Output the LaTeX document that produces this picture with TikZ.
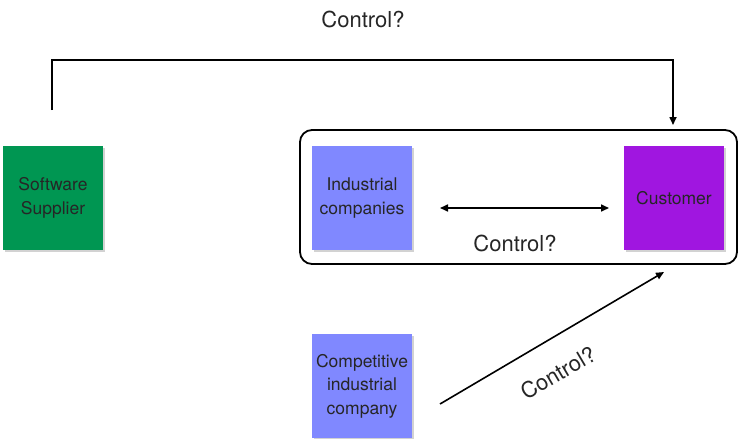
\documentclass[tikz,border=0pt]{standalone}
\usepackage{fontspec}
\setmainfont{TeX Gyre Heros}
\usetikzlibrary{arrows.meta,shadows}
\definecolor{supgreen}{RGB}{0,150,82}
\definecolor{indblue}{RGB}{128,136,255}
\definecolor{custpurple}{RGB}{160,22,224}
\tikzset{
  actor/.style={minimum width=100pt,minimum height=104pt,inner sep=0pt,align=center,
     font=\fontsize{17.5}{23.5}\selectfont,text=black!85,
     drop shadow={shadow xshift=1.5pt,shadow yshift=-1.5pt,fill=black!35,opacity=0.5}},
  conn/.style={line width=1.6pt,-{Triangle[length=8pt,width=7pt]}},
  lbl/.style={font=\fontsize{22}{26}\selectfont,text=black!85,inner sep=0pt}
}
\begin{document}
\begin{tikzpicture}[x=1pt,y=-1pt]
\useasboundingbox (0,0) rectangle (739,439);
\node[draw,line width=1.8pt,rounded corners=12pt,minimum width=437pt,minimum height=134pt] (group) at (518.5,197) {};
\node[actor,fill=supgreen] (sup) at (53,198) {Software\\Supplier};
\node[actor,fill=indblue] (ind) at (362,198) {Industrial\\companies};
\node[actor,fill=custpurple] (cust) at (674,198) {Customer};
\node[actor,fill=indblue] (comp) at (362,386) {Competitive\\industrial\\company};
\coordinate (topstart) at (52,110);
\coordinate (topend) at (673,125);
\draw[conn] (topstart) -- (52,60) -- (673,60) -- (topend);
\node[lbl] (l1) at (363,19) {Control?};
\coordinate (da) at (440,208);
\coordinate (db) at (609,208);
\draw[conn,{Triangle[length=8pt,width=7pt]}-{Triangle[length=8pt,width=7pt]}] (da) -- (db);
\node[lbl] (l2) at (515,243) {Control?};
\coordinate (ca) at (440,404);
\coordinate (cb) at (664,272);
\draw[conn] (ca) -- (cb);
\node[lbl,rotate=30.5] (l3) at (558,373) {Control?};
\end{tikzpicture}
\end{document}
